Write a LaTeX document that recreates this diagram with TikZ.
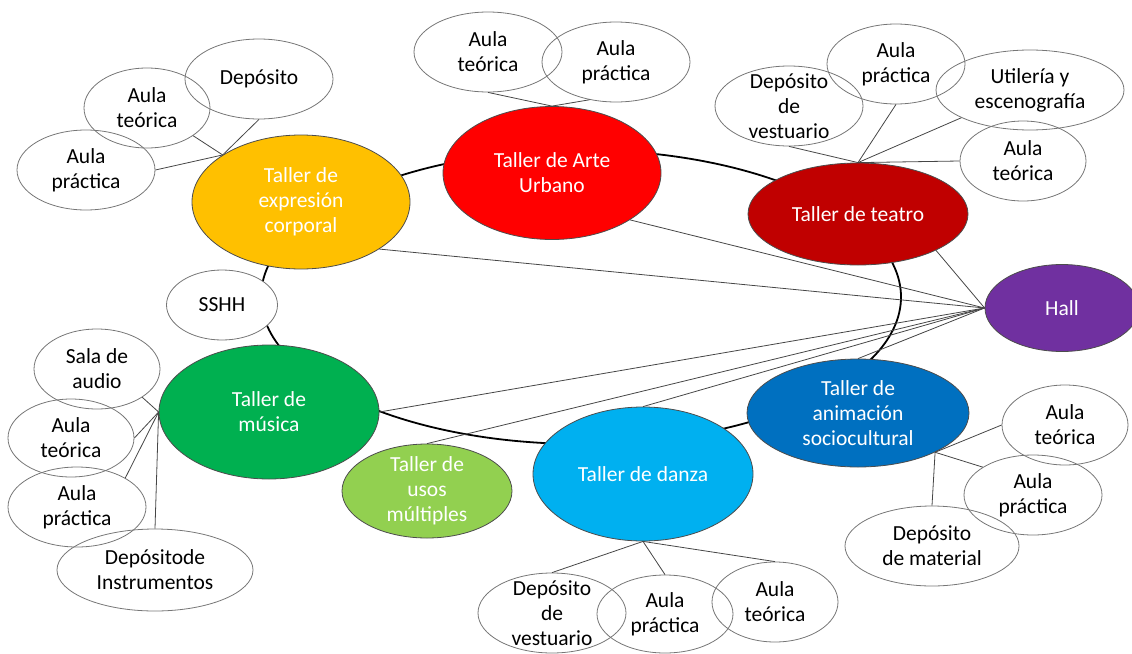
\documentclass[tikz,border=0pt]{standalone}
\usepackage{fontspec}
\setmainfont{Carlito}
\usepackage{tikz}
\usetikzlibrary{
  shapes.geometric,
  backgrounds
}
\definecolor{tallerGold}{RGB}{255,192,0}
\definecolor{tallerRed}{RGB}{255,0,0}
\definecolor{tallerDarkRed}{RGB}{192,0,0}
\definecolor{tallerPurple}{RGB}{112,48,160}
\definecolor{tallerGreen}{RGB}{0,176,80}
\definecolor{tallerLightGreen}{RGB}{146,208,80}
\definecolor{tallerCyan}{RGB}{0,176,240}
\definecolor{tallerBlue}{RGB}{0,112,192}
\definecolor{tallerGray}{RGB}{118,118,118}
\definecolor{tallerLink}{RGB}{70,70,70}

\begin{document}
\begin{tikzpicture}[
  x=1pt, y=-1pt,
  font=\fontsize{21.5}{25}\selectfont,
  hub/.style={
    ellipse,
    draw=black!70,
    line width=0.8pt,
    text=white,
    align=center,
    inner sep=0pt
  },
  room/.style={
    ellipse,
    draw=tallerGray,
    line width=0.8pt,
    align=center,
    inner sep=0pt,
    minimum height=80pt
  },
  threeline/.style={inner ysep=-8pt},
  link/.style={draw=tallerLink, line width=0.8pt},
  ring/.style={draw=black, line width=1.8pt}
]

\useasboundingbox (0,0) rectangle (1132,653);

\node[hub, fill=tallerGold, minimum width=218pt, minimum height=134pt]
  (expr) at (301,202) {Taller de\\expresión\\corporal};
\node[hub, fill=tallerRed, minimum width=218pt, minimum height=133pt]
  (arte) at (552,173) {Taller de Arte\\Urbano};
\node[hub, fill=tallerDarkRed, minimum width=220pt, minimum height=102pt]
  (teatro) at (858,214) {Taller de teatro};
\node[hub, fill=tallerPurple, minimum width=154pt, minimum height=87pt]
  (hall) at (1062,308) {Hall};
\node[hub, fill=tallerGreen, minimum width=220pt, minimum height=134pt]
  (musica) at (269,412) {Taller de\\música};
\node[hub, fill=tallerLightGreen, minimum width=170pt, minimum height=94pt, threeline]
  (usos) at (427,491) {Taller de\\usos\\múltiples};
\node[hub, fill=tallerCyan, minimum width=220pt, minimum height=134pt]
  (danza) at (643,474) {Taller de danza};
\node[hub, fill=tallerBlue, minimum width=222pt, minimum height=108pt]
  (anim) at (858,413) {Taller de\\animación\\sociocultural};
\node[room, fill=white, minimum width=111pt, minimum height=70pt]
  (sshh) at (222,305) {SSHH};

\node[room, minimum width=148pt] (exDep) at (259,79) {Depósito};
\node[room, minimum width=126pt] (exTeo) at (147,108) {Aula\\teórica};
\node[room, minimum width=138pt] (exPra) at (86,170) {Aula\\práctica};

\node[room, minimum width=148pt] (arTeo) at (488,52) {Aula\\teórica};
\node[room, minimum width=148pt] (arPra) at (616,62) {Aula\\práctica};

\node[room, minimum width=148pt, threeline] (teDep) at (789,106)
  {Depósito\\de\\vestuario};
\node[room, minimum width=138pt] (tePra) at (896,64) {Aula\\práctica};
\node[room, minimum width=188pt] (teUti) at (1030,90) {Utilería y\\escenografía};
\node[room, minimum width=126pt] (teTeo) at (1023,161) {Aula\\teórica};

\node[room, minimum width=126pt] (muSal) at (97,369) {Sala de\\audio};
\node[room, minimum width=126pt, minimum height=78pt] (muTeo) at (71,438)
  {Aula\\teórica};
\node[room, minimum width=138pt] (muPra) at (77,507) {Aula\\práctica};
\node[room, minimum width=196pt, minimum height=82pt] (muDep) at (155,570)
  {Depósitode\\Instrumentos};

\node[room, minimum width=148pt, threeline] (daDep) at (552,613)
  {Depósito\\de\\vestuario};
\node[room, minimum width=136pt, minimum height=78pt] (daPra) at (665,614)
  {Aula\\práctica};
\node[room, minimum width=126pt] (daTeo) at (775,602) {Aula\\teórica};

\node[room, minimum width=126pt] (anTeo) at (1065,425) {Aula\\teórica};
\node[room, minimum width=138pt] (anPra) at (1033,495) {Aula\\práctica};
\node[room, minimum width=174pt] (anDep) at (932,546) {Depósito\\de material};

\begin{scope}[on background layer]
  \coordinate (ringc) at (581,297);
  \draw[ring] (ringc) ellipse [x radius=320pt, y radius=147pt];
\end{scope}

\draw[link] (exDep.south) -- (expr.149);
\draw[link] (exTeo.-31) -- (expr.149);
\draw[link] (exPra.east) -- (expr.149);

\draw[link] (arTeo.south) -- (arte.north);
\draw[link] (arPra.-125) -- (arte.north);

\draw[link] (teDep.south) -- (teatro.north);
\draw[link] (tePra.south) -- (teatro.north);
\draw[link] (teUti.202) -- (teatro.north);
\draw[link] (teTeo.west) -- (teatro.north);

\draw[link] (muSal.-32) -- (musica.west);
\draw[link] (muTeo.east) -- (musica.west);
\draw[link] (muPra.31) -- (musica.west);
\draw[link] (muDep.north) -- (musica.west);

\draw[link] (daDep.north) -- (danza.south);
\draw[link] (daPra.north) -- (danza.south);
\draw[link] (daTeo.north) -- (danza.south);

\draw[link] (anTeo.west) -- (anim.-27);
\draw[link] (anPra.151) -- (anim.-27);
\draw[link] (anDep.north) -- (anim.-27);

\draw[link] (expr.-31) -- (hall.west);
\draw[link] (arte.-31) -- (hall.west);
\draw[link] (teatro.-25) -- (hall.west);
\draw[link] (musica.east) -- (hall.west);
\draw[link] (usos.north) -- (hall.west);
\draw[link] (danza.north) -- (hall.west);
\draw[link] (anim.north) -- (hall.west);

\end{tikzpicture}
\end{document}
